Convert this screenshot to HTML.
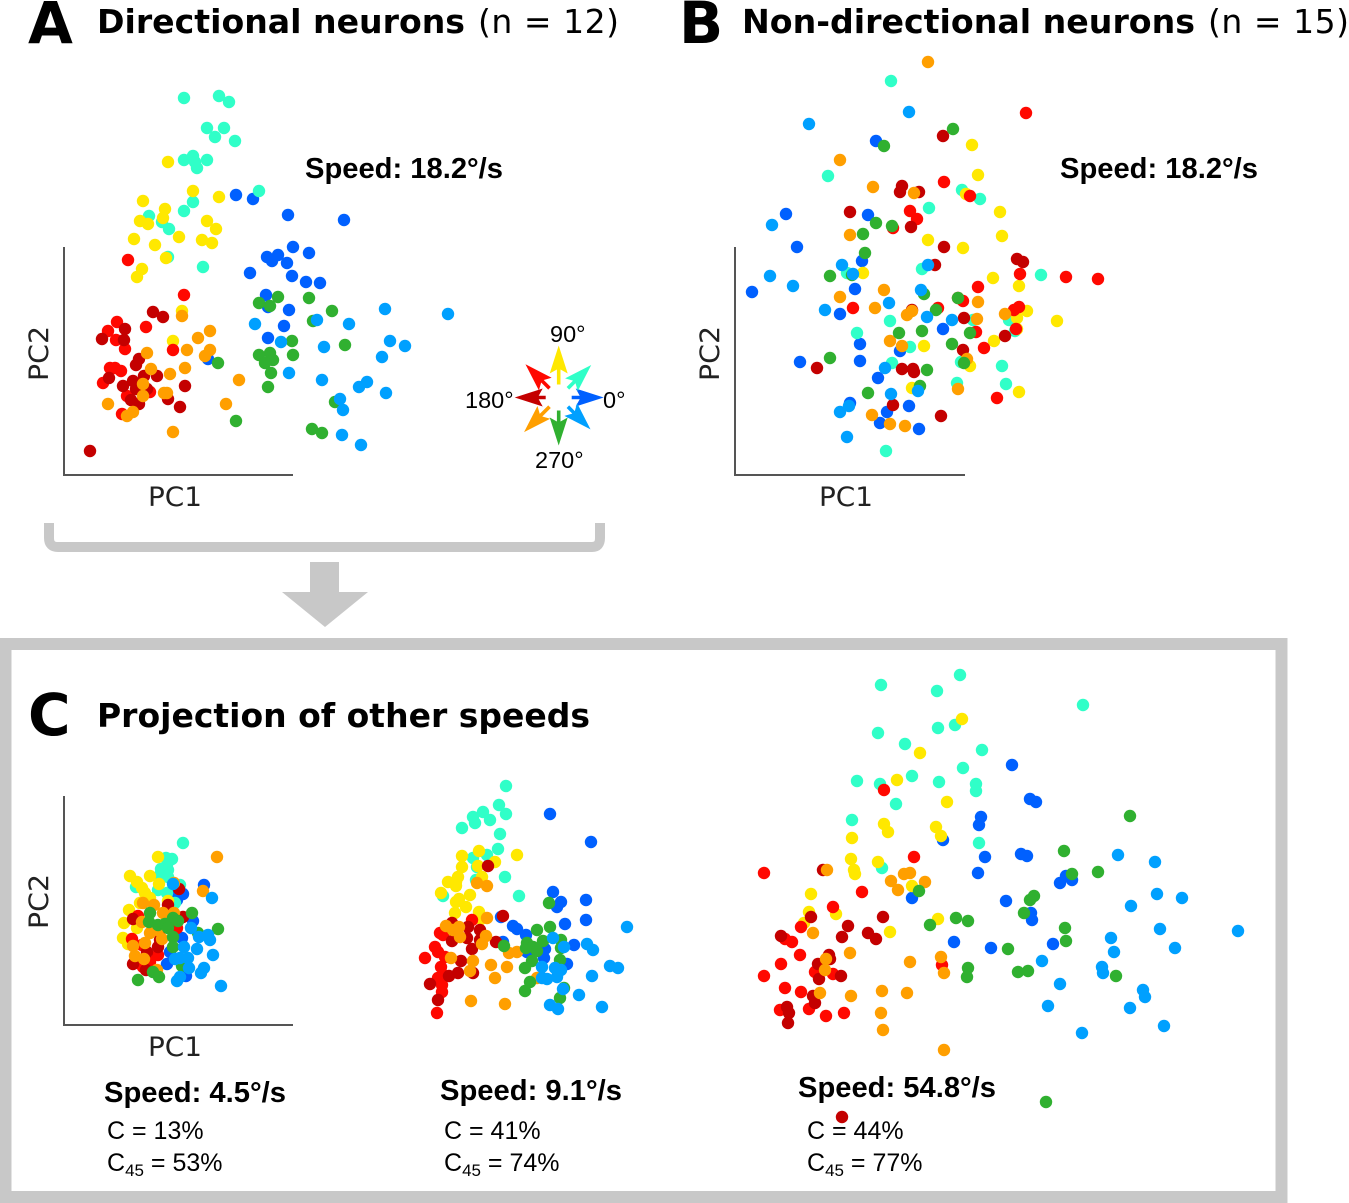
<!DOCTYPE html>
<html lang="en">
<head>
<meta charset="utf-8">
<title>Directional and non-directional neurons PCA</title>
<style>
html,body{margin:0;padding:0;background:#fff}
svg{display:block}
.h{font-family:"DejaVu Sans",sans-serif;font-weight:bold;fill:#000}
.t{font-family:"DejaVu Sans",sans-serif;fill:#000}
.s{font-family:"Liberation Sans",sans-serif;font-weight:bold;fill:#000;font-size:29px}
.l{font-family:"Liberation Sans",sans-serif;fill:#000;font-size:25px}
.a{font-family:"DejaVu Sans",sans-serif;fill:#222;font-size:27px}
.c{font-family:"Liberation Sans",sans-serif;fill:#000;font-size:23.500px}
</style>
</head>
<body>
<svg id="fig" xmlns="http://www.w3.org/2000/svg" width="1349" height="1203" viewBox="0 0 1349 1203">
<rect width="1349" height="1203" fill="#fff"/>

<text class="h" x="28" y="43" font-size="58">A</text>
<text class="h" x="97" y="33" font-size="33" textLength="368" lengthAdjust="spacingAndGlyphs">Directional neurons</text>
<text class="t" x="478" y="33" font-size="33" textLength="141" lengthAdjust="spacing">(n = 12)</text>
<text class="h" x="679" y="43" font-size="58">B</text>
<text class="h" x="742" y="33" font-size="33" textLength="453" lengthAdjust="spacingAndGlyphs">Non-directional neurons</text>
<text class="t" x="1208" y="33" font-size="33" textLength="141" lengthAdjust="spacing">(n = 15)</text>

<text class="s" x="305" y="178" textLength="198" lengthAdjust="spacingAndGlyphs">Speed: 18.2°/s</text>
<text class="s" x="1060" y="178" textLength="198" lengthAdjust="spacingAndGlyphs">Speed: 18.2°/s</text>

<g stroke="#555" stroke-width="2" fill="none">
<path d="M64 247V475H293"/>
</g>
<g stroke="#555" stroke-width="2" fill="none">
<path d="M735 247V475H965"/>
</g>
<g stroke="#555" stroke-width="2" fill="none">
<path d="M64 796V1025H293"/>
</g>

<text class="a" x="148" y="506" textLength="54" lengthAdjust="spacingAndGlyphs">PC1</text>
<text class="a" transform="translate(48,381) rotate(-90)" textLength="55" lengthAdjust="spacingAndGlyphs">PC2</text>
<text class="a" x="819" y="506" textLength="54" lengthAdjust="spacingAndGlyphs">PC1</text>
<text class="a" transform="translate(719,381) rotate(-90)" textLength="55" lengthAdjust="spacingAndGlyphs">PC2</text>
<text class="a" x="148" y="1056" textLength="54" lengthAdjust="spacingAndGlyphs">PC1</text>
<text class="a" transform="translate(48,929) rotate(-90)" textLength="55" lengthAdjust="spacingAndGlyphs">PC2</text>

<path d="M49 523V538Q49 547 58 547H592Q600 547 600 538V523" fill="none" stroke="#c8c8c8" stroke-width="10"/>
<path d="M310 562H339V592H368L325 627L282 592H310Z" fill="#c8c8c8"/>
<rect x="5.500" y="644" width="1276" height="553" fill="none" stroke="#c8c8c8" stroke-width="12"/>

<text class="h" x="28" y="735" font-size="58">C</text>
<text class="h" x="97" y="727" font-size="33" textLength="493" lengthAdjust="spacingAndGlyphs">Projection of other speeds</text>

<text class="s" x="104" y="1102" textLength="182" lengthAdjust="spacingAndGlyphs">Speed: 4.5°/s</text>
<text class="l" x="107" y="1139">C = 13%</text>
<text class="l" x="107" y="1171">C<tspan font-size="17" dy="5">45</tspan><tspan dy="-5"> = 53%</tspan></text>
<text class="s" x="440" y="1100" textLength="182" lengthAdjust="spacingAndGlyphs">Speed: 9.1°/s</text>
<text class="l" x="444" y="1139">C = 41%</text>
<text class="l" x="444" y="1171">C<tspan font-size="17" dy="5">45</tspan><tspan dy="-5"> = 74%</tspan></text>
<text class="s" x="798" y="1097" textLength="198" lengthAdjust="spacingAndGlyphs">Speed: 54.8°/s</text>
<text class="l" x="807" y="1139">C = 44%</text>
<text class="l" x="807" y="1171">C<tspan font-size="17" dy="5">45</tspan><tspan dy="-5"> = 77%</tspan></text>

<g id="compass">
<text class="c" x="550" y="342">90°</text>
<text class="c" x="465" y="408">180°</text>
<text class="c" x="603" y="408">0°</text>
<text class="c" x="535" y="468">270°</text>
</g>
<g id="dots"></g>
</svg>

<script>
// Direction order, colours and legend
const directions = [0, 45, 90, 135, 180, 225, 270, 315];
const seriesColors = ['#0060ff', '#30ffc8', '#ffe800', '#ff0800', '#c40000', '#ff9f00', '#30b030', '#00a0ff'];
const arrowLengths = [45, 46, 52, 47, 44, 49, 48, 45];

// Panel A: PC1, PC2 scores per direction
const a000 = [[172,280],[189,276],[224,260],[280,255],[229,228],[245,222],[203,218],[214,220],[208,214],[223,212],[186,202],[228,199],[242,193],[256,192],[202,180],[204,168],[225,165],[220,149],[204,137],[144,116]];
const a045 = [[120,377],[155,379],[165,373],[143,347],[160,347],[151,338],[171,334],[120,315],[129,319],[131,313],[143,315],[133,307],[195,284],[129,273],[120,264],[85,259],[98,253],[105,246],[104,218],[139,208]];
const a090 = [[104,313],[129,284],[155,278],[79,274],[101,266],[99,257],[76,254],[84,251],[143,254],[152,246],[70,236],[115,238],[138,235],[148,232],[91,230],[102,217],[78,206],[73,198],[118,164],[109,134]];
const a135 = [[64,215],[120,180],[53,153],[44,144],[52,135],[82,148],[61,126],[109,125],[46,107],[51,107],[57,104],[39,92],[63,79],[86,83],[58,61]];
const a180 = [[89,163],[99,158],[61,146],[38,136],[60,135],[75,116],[72,110],[45,97],[80,99],[93,99],[59,89],[69,94],[72,86],[83,86],[121,89],[67,75],[75,71],[104,76],[116,68],[26,24]];
const a225 = [[118,159],[146,144],[134,137],[123,125],[83,122],[146,125],[141,119],[121,107],[87,106],[106,101],[175,95],[79,91],[79,79],[100,82],[103,82],[44,71],[162,71],[69,63],[63,59],[109,43]];
const a270 = [[214,178],[245,177],[195,172],[206,169],[268,164],[249,154],[228,134],[281,130],[195,120],[206,122],[209,115],[201,112],[229,120],[207,102],[204,88],[154,112],[172,54],[271,73],[248,46],[258,42]];
const a315 = [[321,166],[384,161],[191,151],[253,155],[285,151],[217,133],[260,128],[326,134],[341,129],[318,118],[225,102],[258,95],[303,93],[295,88],[322,82],[276,76],[279,65],[278,40],[297,30]];

// Panel B
const b000 = [[141,334],[51,261],[133,260],[62,228],[127,214],[17,183],[120,186],[105,161],[208,146],[125,131],[165,124],[65,113],[125,114],[143,97],[115,72],[174,69],[152,63],[145,52],[184,46]];
const b045 = [[156,394],[93,299],[227,285],[245,276],[194,267],[187,206],[306,200],[112,202],[155,154],[122,142],[238,155],[274,155],[280,144],[175,128],[226,113],[157,112],[267,109],[222,92],[271,91],[151,24]];
const b090 = [[237,330],[243,300],[231,281],[265,263],[267,239],[193,235],[228,227],[128,202],[258,197],[284,189],[292,164],[322,154],[282,157],[282,146],[259,134],[189,129],[235,109],[177,87],[284,83]];
const b135 = [[291,362],[209,293],[235,279],[175,264],[182,256],[158,247],[285,201],[331,198],[363,196],[243,188],[118,167],[223,177],[228,174],[203,167],[241,143],[279,165],[284,168],[281,146],[249,127],[262,77]];
const b180 = [[208,339],[167,289],[165,283],[184,283],[115,263],[176,248],[209,228],[282,216],[288,213],[200,210],[177,165],[229,157],[270,139],[228,125],[82,107],[167,106],[178,106],[179,103],[158,70],[206,59]];
const b225 = [[193,413],[105,315],[138,288],[179,282],[115,240],[149,185],[105,178],[140,167],[172,160],[177,164],[243,173],[242,156],[270,161],[155,134],[167,129],[232,116],[223,86],[137,60],[155,51],[170,49]];
const b270 = [[218,346],[149,329],[141,252],[157,249],[128,241],[130,222],[95,199],[117,200],[189,181],[223,177],[201,165],[187,144],[164,142],[235,142],[217,131],[95,117],[229,112],[192,105],[185,89],[133,82]];
const b315 = [[174,363],[74,351],[37,250],[107,210],[35,199],[193,210],[118,201],[58,189],[90,165],[154,172],[186,185],[192,158],[217,155],[150,107],[156,81],[183,84],[105,63],[114,69],[112,38]];

// Panel C, speed 4.5 deg/s
const c1000 = [[140,140],[119,131],[113,125],[129,104],[118,87],[103,61],[106,73],[122,49],[111,135]];
const c1045 = [[119,182],[102,167],[108,166],[103,160],[97,156],[104,155],[96,150],[104,148],[94,135],[103,132],[72,138],[111,122],[116,140]];
const c1090 = [[94,168],[66,149],[86,149],[73,143],[95,141],[78,137],[81,132],[86,127],[76,122],[104,124],[65,115],[60,102],[73,97],[59,87],[64,81]];
const c1135 = [[74,109],[113,97],[96,95],[68,86],[78,80],[94,70],[86,63],[74,62],[79,58],[104,105]];
const c1180 = [[115,136],[104,120],[69,106],[119,108],[94,78],[83,73],[69,61],[82,55],[96,85]];
const c1225 = [[153,168],[110,142],[139,134],[79,122],[90,120],[99,112],[110,112],[78,103],[86,92],[98,86],[81,82],[69,79],[71,69],[80,66],[93,55],[94,95]];
const c1270 = [[86,112],[128,112],[85,103],[94,100],[101,101],[109,107],[114,104],[104,97],[109,88],[109,78],[134,92],[154,96],[118,59],[89,53],[95,48],[74,45]];
const c1315 = [[109,141],[148,127],[127,97],[135,88],[144,90],[146,85],[120,78],[133,76],[149,70],[111,66],[124,67],[116,67],[125,57],[140,57],[137,52],[116,48],[113,44],[157,39]];

// Panel C, speed 9.1 deg/s
const c2000 = [[150,211],[191,183],[153,133],[161,123],[157,118],[186,125],[165,101],[186,105],[101,108],[113,99],[117,96],[126,90],[103,83],[174,80],[145,76],[127,73],[144,67],[167,61]];
const c2045 = [[106,239],[99,220],[106,211],[83,213],[73,208],[75,202],[90,205],[62,197],[100,191],[98,176],[73,167],[87,170],[77,158],[105,148],[76,145],[119,129],[43,129]];
const c2090 = [[62,169],[79,174],[117,170],[95,163],[62,158],[78,159],[82,148],[58,148],[48,143],[56,143],[56,139],[41,132],[70,130],[59,126],[56,123],[66,118],[55,112],[79,113],[81,106]];
const c2135 = [[72,105],[40,92],[43,90],[35,78],[38,73],[25,67],[45,68],[41,58],[43,50],[38,47],[42,40],[42,33],[37,12]];
const c2180 = [[88,159],[103,109],[52,102],[68,98],[80,95],[52,84],[67,87],[96,83],[72,76],[61,64],[73,52],[58,52],[49,49],[30,41],[38,25],[80,85]];
const c2225 = [[77,142],[87,139],[87,107],[46,99],[59,98],[53,95],[60,88],[86,89],[82,81],[51,67],[73,64],[91,60],[107,58],[70,54],[95,47],[71,24],[105,21],[109,72],[117,73],[137,47]];
const c2270 = [[149,122],[150,98],[137,95],[143,84],[127,82],[104,79],[126,77],[133,78],[137,74],[161,85],[161,77],[160,65],[132,64],[125,57],[130,43],[125,34],[164,37],[160,27]];
const c2315 = [[227,98],[153,87],[164,78],[187,81],[193,75],[142,58],[155,57],[161,55],[210,59],[218,57],[192,49],[142,47],[147,46],[157,48],[163,36],[179,30],[202,18],[150,20],[158,16]];

// Panel C, speed 54.8 deg/s
const c3000 = [[193,285],[231,308],[229,300],[235,268],[228,252],[162,227],[204,183],[241,177],[262,360],[280,326],[286,323],[271,271],[277,269],[316,249],[322,245],[310,242],[256,224],[281,212],[282,205],[303,181]];
const c3045 = [[131,440],[187,434],[210,450],[128,392],[155,381],[188,397],[205,400],[232,375],[213,357],[107,344],[130,341],[162,349],[189,343],[226,341],[226,334],[146,321],[102,305],[229,282],[132,257],[333,420]];
const c3090 = [[212,406],[170,372],[147,345],[197,323],[134,301],[138,293],[102,287],[186,298],[191,289],[101,266],[128,263],[104,255],[105,251],[162,239],[61,231],[59,213],[86,211],[54,202],[188,206],[140,193]];
const c3135 = [[14,252],[134,335],[164,268],[112,233],[83,218],[51,198],[35,186],[42,183],[50,170],[31,161],[14,149],[65,153],[83,151],[35,137],[51,133],[30,115],[59,116],[76,109],[94,112],[192,160]];
const c3180 = [[73,255],[61,208],[98,199],[92,188],[133,208],[31,189],[118,192],[126,186],[79,170],[80,166],[68,161],[91,149],[69,146],[63,129],[65,122],[37,118],[39,112],[38,102],[92,8]];
const c3225 = [[77,255],[154,251],[160,252],[141,244],[175,243],[148,235],[63,192],[100,172],[76,166],[75,155],[70,132],[101,129],[132,134],[157,132],[131,112],[133,95],[160,163],[191,168],[194,152],[194,75]];
const c3270 = [[169,234],[180,200],[206,207],[218,204],[218,157],[217,148],[296,23],[380,309],[314,274],[348,253],[322,251],[284,229],[280,225],[274,212],[315,197],[316,184],[258,176],[366,149],[268,153],[278,154]];
const c3315 = [[368,270],[405,263],[407,231],[432,227],[381,219],[410,196],[488,194],[425,177],[361,187],[364,173],[292,164],[352,158],[353,152],[310,141],[393,135],[395,128],[298,119],[380,117],[414,99],[332,92]];

const NS = 'http://www.w3.org/2000/svg';

function makeScale(origin, sign) {
  return function (value) { return origin + sign * value; };
}

function drawPanel(panelName, originX, originY, seriesList) {
  const xScale = makeScale(originX, 1);
  const yScale = makeScale(originY, -1);
  const group = document.createElementNS(NS, 'g');
  
  
  seriesList.forEach(function (series, s) {
    const seriesGroup = document.createElementNS(NS, 'g');
    
    
    seriesGroup.setAttribute('fill', seriesColors[s]);
    series.forEach(function (point) {
      const dot = document.createElementNS(NS, 'circle');
      
      
      dot.setAttribute('cx', xScale(point[0]));
      dot.setAttribute('cy', yScale(point[1]));
      dot.setAttribute('r', 6.2);
      seriesGroup.appendChild(dot);
    });
    group.appendChild(seriesGroup);
  });
  document.getElementById('dots').appendChild(group);
}

drawPanel('panel-a-points', 64, 475, [a000, a045, a090, a135, a180, a225, a270, a315]);
drawPanel('panel-b-points', 735, 475, [b000, b045, b090, b135, b180, b225, b270, b315]);
drawPanel('speed-4-5-points', 64, 1025, [c1000, c1045, c1090, c1135, c1180, c1225, c1270, c1315]);
drawPanel('speed-9-1-points', 400, 1025, [c2000, c2045, c2090, c2135, c2180, c2225, c2270, c2315]);
drawPanel('speed-54-8-points', 750, 1125, [c3000, c3045, c3090, c3135, c3180, c3225, c3270, c3315]);

// Direction legend arrows
directions.forEach(function (angle, i) {
  const L = arrowLengths[i];
  const arrow = document.createElementNS(NS, 'path');
  
  
  const wing = L - 28;
  const notch = L - 24;
  arrow.setAttribute('d',
    'M' + L + ' 0L' + wing + ' -9L' + notch + ' -1.8L13 -1.8L13 1.8L' + notch + ' 1.8L' + wing + ' 9Z');
  arrow.setAttribute('fill', seriesColors[i]);
  arrow.setAttribute('transform', 'translate(558.7,397.5) rotate(' + (-angle) + ')');
  document.getElementById('compass').appendChild(arrow);
});
</script>
</body>
</html>
